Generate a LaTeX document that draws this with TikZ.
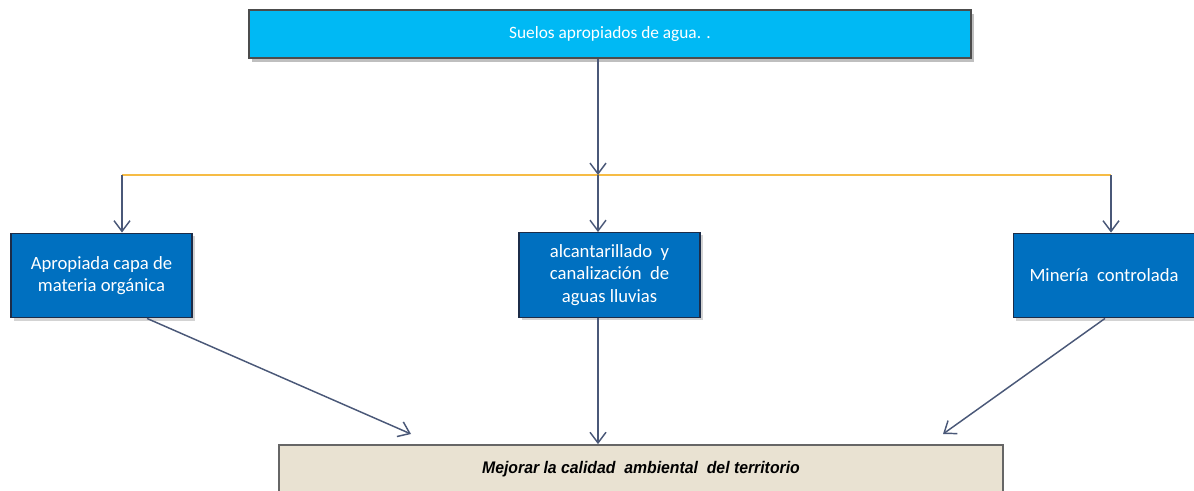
\documentclass[tikz,border=0pt]{standalone}
\usepackage{fontspec}
\usepackage{graphicx}
\setmainfont{Carlito}
\newfontfamily\arialf{Liberation Sans}
\usetikzlibrary{arrows.meta,shadows}
\definecolor{topfill}{HTML}{00B9F4}
\definecolor{boxfill}{HTML}{0070C0}
\definecolor{botfill}{HTML}{E9E2D2}
\definecolor{linec}{HTML}{4A5878}
\definecolor{yel}{HTML}{F6BC45}
\definecolor{navy}{HTML}{1C2C48}
\begin{document}
\begin{tikzpicture}[x=0.75pt,y=-0.75pt,
  bluebox/.style={rectangle,draw=navy,line width=0.9pt,fill=boxfill,text=white,
    minimum width=135.75pt,minimum height=63.5pt,align=center,font=\fontsize{14}{17}\selectfont,
    drop shadow={shadow xshift=2pt,shadow yshift=-2pt,opacity=0.35}},
  topbox/.style={rectangle,draw=black!70,line width=0.9pt,fill=topfill,text=white,
    minimum width=541.5pt,minimum height=36pt,font=\fontsize{13}{15}\selectfont,
    drop shadow={shadow xshift=2.5pt,shadow yshift=-3pt,opacity=0.5}},
  botbox/.style={rectangle,draw=black!60,line width=1.3pt,fill=botfill,
    minimum width=543pt,minimum height=45pt},
  arr/.style={draw=linec,line width=1.1pt,-{Straight Barb[length=8pt,width=12pt,line width=1.1pt]}},
  yline/.style={draw=yel,line width=1.4pt}]
\useasboundingbox (0,0) rectangle (1194,491);
\clip (0,0) rectangle (1194,491);
\node[topbox] (top) at (610,34) {Suelos apropiados de agua. .};
\node[bluebox] (left) at (101.5,275.5) {Apropiada capa de\\materia orgánica};
\node[bluebox] (mid) at (609.5,275) {alcantarillado\ \ y\\canalización\ \ de\\aguas lluvias};
\node[bluebox] (right) at (1104,275.5) {Minería\ \ controlada};
\node[botbox] (bot) at (641,475) {};
\node[font=\arialf\bfseries\itshape\fontsize{12.6}{14}\selectfont] (bottxt) at (641,469) {\scalebox{0.94}[1]{Mejorar la calidad\ \ ambiental\ \ del territorio}};
\coordinate (j) at (598,175);
\coordinate (lj) at (122,175);
\coordinate (rj) at (1111,175);
\draw[yline] (lj) -- (rj);
\draw[arr] (top.south -| j) -- (j);
\draw[arr] (j) -- (mid.north -| j);
\draw[arr] (lj) -- (left.north -| lj);
\draw[arr] (rj) -- (right.north -| rj);
\coordinate (e1) at (411,434);
\coordinate (e3) at (943,434);
\draw[arr] (left.south -| 147,0) -- (e1);
\draw[arr] (mid.south -| j) -- (bot.north -| j);
\draw[arr] (right.south -| 1105,0) -- (e3);
\end{tikzpicture}
\end{document}
